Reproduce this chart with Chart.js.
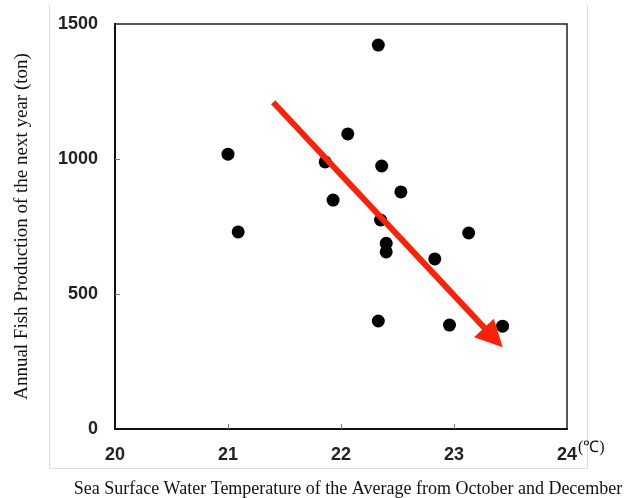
<!DOCTYPE html>
<html>
<head>
<meta charset="utf-8">
<script src="https://cdn.jsdelivr.net/npm/chart.js@4"></script>
<style>
  html, body { margin: 0; padding: 0; background: #fff; }
  #wrap { width: 636px; height: 498px; }
</style>
</head>
<body>
<div id="wrap"><canvas id="chart"></canvas></div>
<script>
// sea surface temperature (°C) vs. next year's fish production (ton)
const temperature = [21.0, 21.09, 21.86, 21.93, 22.06, 22.33, 22.36, 22.53, 22.35, 22.4, 22.4, 22.83, 23.13, 22.33, 22.96, 23.43];
const production  = [1018, 730, 989, 848, 1093, 1422, 974, 878, 774, 688, 656, 630, 726, 400, 385, 381];

// red trend arrow (start, base of the head)
const trendX = [21.4, 23.28];
const trendY = [1210, 370];

const xTicks = [20, 21, 22, 23, 24];
const yTicks = [0, 500, 1000, 1500];

const xTitle = 'Sea Surface Water Temperature of the Average from October and December';
const yTitle = 'Annual Fish Production of the next year (ton)';
const unitLabel = '(\u2103)';

const RED = 'rgb(250, 35, 10)';
const SERIF = '"Liberation Serif", "Times New Roman", serif';

const decorations = {
  id: 'decorations',
  beforeDraw(chart) {
    const ctx = chart.ctx;
    ctx.save();
    ctx.strokeStyle = '#dcdcdc';
    ctx.lineWidth = 1;
    ctx.beginPath();
    ctx.moveTo(49.5, 5);
    ctx.lineTo(49.5, 468.5);
    ctx.lineTo(587.5, 468.5);
    ctx.lineTo(587.5, 5);
    ctx.stroke();
    ctx.restore();
  },
  afterDatasetsDraw(chart) {
    // arrow head on the end of the trend line
    const pts = chart.getDatasetMeta(0).data;
    const a = pts[0], b = pts[pts.length - 1];
    const dx = b.x - a.x, dy = b.y - a.y;
    const len = Math.hypot(dx, dy);
    const ux = dx / len, uy = dy / len;
    const bx = b.x - ux * 2, by = b.y - uy * 2;
    const ctx = chart.ctx;
    ctx.save();
    ctx.fillStyle = RED;
    ctx.beginPath();
    ctx.moveTo(b.x + ux * 25, b.y + uy * 25);
    ctx.lineTo(bx - uy * 14, by + ux * 14);
    ctx.lineTo(bx + uy * 13, by - ux * 13);
    ctx.closePath();
    ctx.fill();
    ctx.restore();
  },
  afterDraw(chart) {
    const { ctx, chartArea: ca } = chart;
    const x = chart.scales.x, y = chart.scales.y;
    ctx.save();
    // top and right frame
    ctx.strokeStyle = '#222';
    ctx.lineWidth = 1.5;
    ctx.beginPath();
    ctx.moveTo(ca.left, ca.top);
    ctx.lineTo(ca.right, ca.top);
    ctx.lineTo(ca.right, ca.bottom);
    ctx.stroke();
    // small inward ticks
    ctx.strokeStyle = '#777';
    ctx.lineWidth = 1;
    ctx.beginPath();
    xTicks.slice(1, -1).forEach(v => {
      const px = Math.round(x.getPixelForValue(v)) + 0.5;
      ctx.moveTo(px, ca.bottom);
      ctx.lineTo(px, ca.bottom - 5);
    });
    yTicks.slice(1, -1).forEach(v => {
      const py = Math.round(y.getPixelForValue(v)) + 0.5;
      ctx.moveTo(ca.left, py);
      ctx.lineTo(ca.left + 5, py);
    });
    ctx.stroke();
    ctx.fillStyle = '#111';
    ctx.textBaseline = 'middle';
    // unit after the last x label
    ctx.font = '16px ' + SERIF;
    ctx.textAlign = 'left';
    ctx.fillText(unitLabel, x.getPixelForValue(24) + 11, 448);
    // x axis title, wider than the plot area
    ctx.font = '18px ' + SERIF;
    ctx.textAlign = 'center';
    ctx.fillText(xTitle, 348, 489);
    ctx.restore();
  }
};

new Chart(document.getElementById('chart'), {
  type: 'scatter',
  data: {
    datasets: [
      {
        type: 'line',
        data: trendX.map((v, i) => ({ x: v, y: trendY[i] })),
        borderColor: RED,
        borderWidth: 6,
        borderCapStyle: 'butt',
        pointRadius: 0,
        fill: false,
      },
      {
        data: temperature.map((v, i) => ({ x: v, y: production[i] })),
        backgroundColor: '#000',
        borderWidth: 0,
        pointRadius: 6.5,
        pointHoverRadius: 6.5,
      },
    ],
  },
  options: {
    responsive: true,
    maintainAspectRatio: false,
    animation: false,
    layout: { padding: { left: 0, right: 69, top: 24, bottom: 0 } },
    scales: {
      x: {
        type: 'linear',
        min: 20,
        max: 24,
        afterFit: s => { s.height = 69; s.paddingLeft = 0; s.paddingRight = 0; },
        afterBuildTicks: s => { s.ticks = xTicks.map(v => ({ value: v })); },
        grid: { display: false, drawTicks: false },
        border: { display: true, color: '#111', width: 2 },
        ticks: {
          padding: 15,
          color: '#222',
          callback: v => String(v),
          font: { family: '"Liberation Sans", Arial, sans-serif', size: 18, weight: 'bold' },
        },
        title: { display: false },
      },
      y: {
        min: 0,
        max: 1500,
        afterFit: s => { s.width = 115; s.paddingTop = 0; s.paddingBottom = 0; },
        afterBuildTicks: s => { s.ticks = yTicks.map(v => ({ value: v })); },
        grid: { display: false, drawTicks: false },
        border: { display: true, color: '#111', width: 2 },
        ticks: {
          padding: 17,
          color: '#222',
          callback: v => String(v),
          font: { family: '"Liberation Sans", Arial, sans-serif', size: 18, weight: 'bold' },
        },
        title: {
          display: true,
          text: yTitle,
          color: '#111',
          padding: { top: 11, bottom: 0 },
          font: { family: SERIF, size: 19 },
        },
      },
    },
    plugins: {
      legend: { display: false },
      tooltip: { enabled: false },
    },
  },
  plugins: [decorations],
});
</script>
</body>
</html>
